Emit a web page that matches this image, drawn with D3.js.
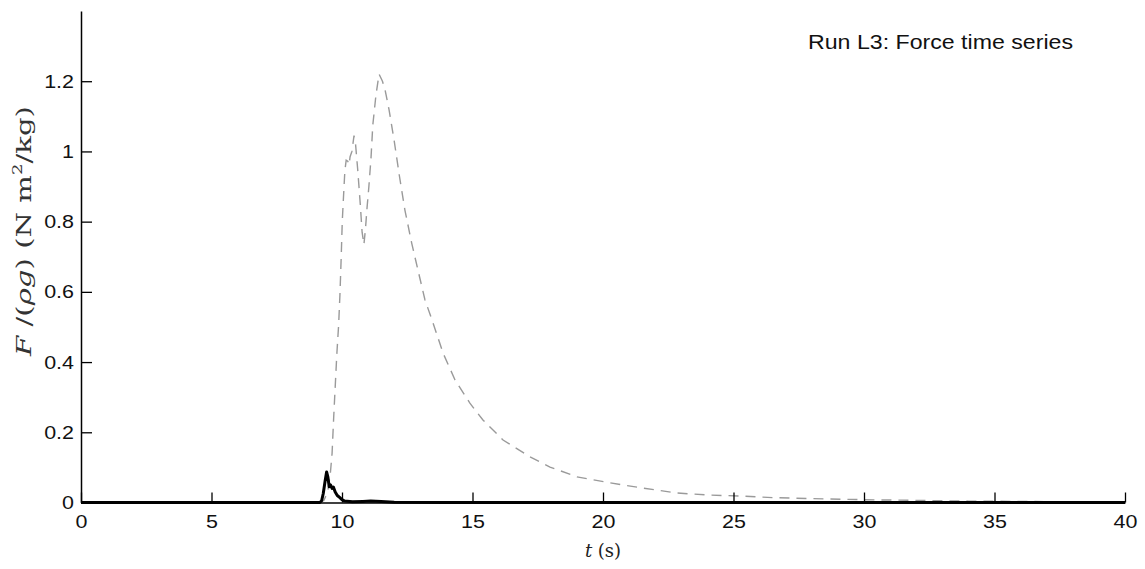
<!DOCTYPE html>
<html>
<head>
<meta charset="utf-8">
<script src="https://d3js.org/d3.v7.min.js"></script>
<style>
  html, body { margin: 0; padding: 0; background: #fff; }
  svg { display: block; }
</style>
</head>
<body>
<svg id="chart" width="1145" height="569"></svg>
<script>
// ---------------- data ----------------
const title = "Run L3: Force time series";
const xTicks = [0, 5, 10, 15, 20, 25, 30, 35, 40];
const xTickLabels = ["0", "5", "10", "15", "20", "25", "30", "35", "40"];
const yTicks = [0, 0.2, 0.4, 0.6, 0.8, 1.0, 1.2];
const yTickLabels = ["0", "0.2", "0.4", "0.6", "0.8", "1", "1.2"];
const xDomain = [0, 40];
const yDomain = [0, 1.4];

// grey dashed series
const dashedT = [0, 9.0, 9.3, 9.45, 9.55, 9.62, 9.68, 9.74, 9.8, 9.87, 9.92, 9.97, 10.01, 10.05, 10.11, 10.16,
  10.22, 10.27, 10.31, 10.38, 10.46, 10.52, 10.6, 10.65, 10.7, 10.77, 10.84, 10.9, 10.96, 11.03, 11.11,
  11.18, 11.3, 11.42, 11.55, 11.65, 11.8, 12.0, 12.2, 12.41, 12.67, 12.91, 13.18, 13.49, 13.87, 14.33,
  14.9, 15.4, 16.17, 17.2, 17.97, 19.0, 20.27, 21.53, 22.84, 24.1, 25.25, 26.5, 28, 30, 32, 34, 36, 38, 40];
const dashedF = [0, 0, 0.005, 0.03, 0.08, 0.14, 0.24, 0.33, 0.42, 0.505, 0.59, 0.7, 0.8, 0.86, 0.945, 0.975,
  0.972, 0.962, 0.985, 1.0, 1.045, 1.02, 0.95, 0.9, 0.85, 0.77, 0.735, 0.78, 0.84, 0.9, 0.98,
  1.075, 1.16, 1.22, 1.2, 1.175, 1.12, 1.03, 0.93, 0.833, 0.739, 0.662, 0.577, 0.511, 0.426, 0.349,
  0.283, 0.235, 0.178, 0.13, 0.101, 0.073, 0.056, 0.041, 0.027, 0.021, 0.0185, 0.014, 0.011, 0.008, 0.006, 0.004, 0.003, 0.002, 0.001];

// black solid series
const solidT = [0, 9.15, 9.22, 9.28, 9.35, 9.41, 9.46, 9.51, 9.56, 9.62, 9.67, 9.74, 9.82, 9.92, 10.0, 10.1,
  10.4, 10.8, 11.1, 11.5, 12, 14, 40];
const solidF = [0, 0, 0.005, 0.025, 0.06, 0.087, 0.072, 0.045, 0.05, 0.04, 0.044, 0.03, 0.02, 0.014, 0.008, 0.004,
  0.002, 0.003, 0.004, 0.003, 0.001, 0, 0];

// ---------------- layout ----------------
const svg = d3.select("#chart");
const margin = { left: 81, right: 20, top: 11, bottom: 66.5 };
const W = 1145, H = 569;
const x = d3.scaleLinear().domain(xDomain).range([margin.left, W - margin.right]);
const y = d3.scaleLinear().domain(yDomain).range([H - margin.bottom, margin.top]);

const tickFont = "'Liberation Sans', Arial, sans-serif";
const stretch = 1.13;

function stretchText(sel, factor) {
  sel.each(function () {
    const w = this.getComputedTextLength();
    this.setAttribute("textLength", w * (factor || stretch));
    this.setAttribute("lengthAdjust", "spacingAndGlyphs");
  });
}

// data lines
const line = d3.line().x(d => x(d[0])).y(d => y(d[1]));
const dashedData = dashedT.map((t, i) => [t, dashedF[i]]);
const solidData = solidT.map((t, i) => [t, solidF[i]]);

svg.append("path")
  .datum(dashedData)
  .attr("d", line)
  .attr("fill", "none")
  .attr("stroke", "#9a9a9a")
  .attr("stroke-width", 1.4)
  .attr("stroke-dasharray", "10,7");

svg.append("path")
  .datum(solidData)
  .attr("d", line)
  .attr("fill", "none")
  .attr("stroke", "#000")
  .attr("stroke-width", 3)
  .attr("stroke-linejoin", "round");

// axes
const xAxis = d3.axisBottom(x)
  .tickValues(xTicks)
  .tickFormat((d, i) => xTickLabels[i])
  .tickSize(-10)
  .tickSizeOuter(0)
  .tickPadding(12);
const gx = svg.append("g").attr("transform", `translate(0,${y(0)})`).call(xAxis);
gx.select(".domain").attr("stroke-width", 1.5);
gx.selectAll(".tick line").attr("stroke-width", 1.3);
gx.selectAll("text").attr("font-family", tickFont).attr("font-size", 19).attr("fill", "#111").call(stretchText);

const yAxis = d3.axisLeft(y)
  .tickValues(yTicks)
  .tickFormat((d, i) => yTickLabels[i])
  .tickSize(-11)
  .tickSizeOuter(0)
  .tickPadding(7);
const gy = svg.append("g").attr("transform", `translate(${x(0)},0)`).call(yAxis);
gy.select(".domain").attr("stroke-width", 1.5);
gy.selectAll(".tick line").attr("stroke-width", 1.3);
gy.selectAll("text").attr("font-family", tickFont).attr("font-size", 19).attr("fill", "#111").call(stretchText);

// title
svg.append("text")
  .attr("x", 808).attr("y", 49)
  .attr("font-family", tickFont).attr("font-size", 19.5).attr("fill", "#111")
  .attr("textLength", 265).attr("lengthAdjust", "spacingAndGlyphs")
  .text(title);

// axis labels (serif, LaTeX-like)
const serif = "'DejaVu Serif', 'Liberation Serif', serif";
const xl = svg.append("text")
  .attr("x", (x(0) + x(40)) / 2).attr("y", 557)
  .attr("text-anchor", "middle")
  .attr("font-family", serif).attr("font-size", 18).attr("fill", "#222");
xl.append("tspan").attr("font-style", "italic").text("t");
xl.append("tspan").text(" (s)");

const yl = svg.append("text")
  .attr("transform", `translate(31,231) rotate(-90)`)
  .attr("text-anchor", "middle")
  .attr("font-family", serif).attr("font-size", 21).attr("fill", "#333")
  .attr("textLength", 250).attr("lengthAdjust", "spacingAndGlyphs");
yl.append("tspan").attr("font-style", "italic").text("F");
yl.append("tspan").text(" /(");
yl.append("tspan").attr("font-style", "italic").text("ρg");
yl.append("tspan").text(")  (N m");
yl.append("tspan").attr("font-size", 13).attr("dy", -9).text("2");
yl.append("tspan").attr("dy", 9).text("/kg)");
</script>
</body>
</html>
